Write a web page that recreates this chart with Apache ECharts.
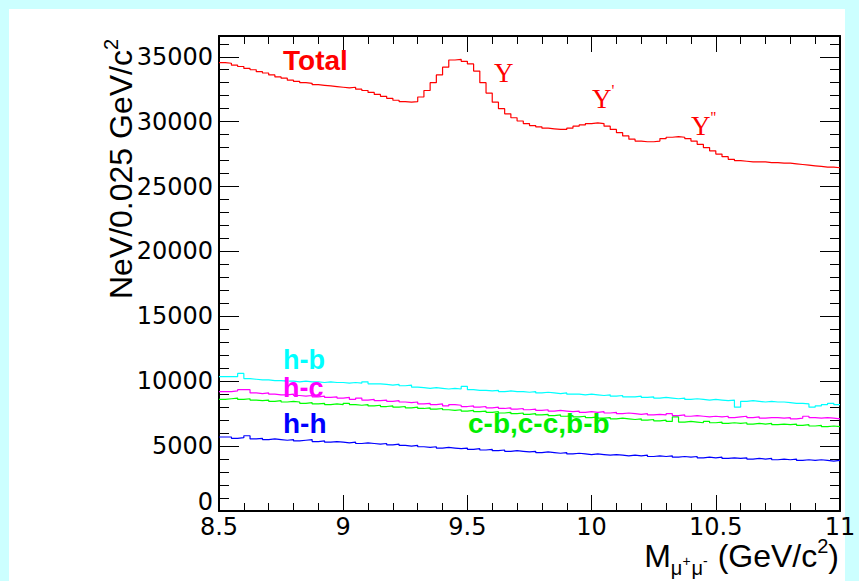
<!DOCTYPE html>
<html>
<head>
<meta charset="utf-8">
<script src="https://cdn.jsdelivr.net/npm/echarts@6/dist/echarts.min.js"></script>
<style>
  html, body { margin: 0; padding: 0; background: #ccffff; }
  #panel { position: absolute; left: 9px; top: 9px; width: 836px; height: 572px; background: #ffffff; }
  #chart { position: absolute; left: 0; top: 0; width: 859px; height: 581px; }
</style>
</head>
<body>
<div id="panel"></div>
<div id="chart"></div>
<script>
// ---- binning ----
const xMin = 8.5;
const xMax = 11;
const binWidth = 0.025;
const yMax = 36600;

// ---- series values (one per 0.025 GeV bin, 8.5 .. 11) ----
const total = [
  34550,34500,34350,34250,34100,34000,33850,33750,33600,33450,
  33350,33200,33100,33000,32950,32850,32800,32750,32700,32650,
  32600,32650,32500,32400,32250,32100,31950,31800,31650,31550,
  31500,31550,31900,32400,33000,33600,34200,34750,34800,34650,
  34450,33900,33000,32200,31500,31000,30600,30300,30050,29850,
  29700,29600,29500,29450,29400,29400,29500,29650,29750,29850,
  29900,29850,29650,29400,29150,28900,28650,28500,28450,28450,
  28500,28700,28800,28850,28800,28700,28500,28250,28000,27750,
  27500,27300,27100,27000,26950,26900,26900,26900,26850,26850,
  26800,26800,26750,26700,26650,26600,26550,26500,26500,26450
];
const hb = [
  10350,10350,10350,10600,10200,10150,10100,10100,10050,10050,
  10000,10000,9950,10000,9950,9950,9900,9950,9900,9900,
  9850,9900,9850,9950,9800,9800,9750,9700,9750,9650,
  9700,9550,9500,9450,9500,9450,9400,9450,9400,9600,
  9350,9300,9300,9250,9300,9200,9250,9200,9200,9150,
  9200,9100,9150,9100,9050,9100,9000,9000,8950,9000,
  8950,8900,8950,8850,8900,8800,8800,8850,8750,8800,
  8700,8750,8700,8650,8700,8600,8650,8600,8550,8600,
  8550,8500,8550,8000,8450,8500,8450,8400,8450,8400,
  8400,8350,8300,8300,8250,8000,8100,8200,8300,8200
];
const hc = [
  9200,9200,9250,9350,9350,9100,9050,9100,9000,8950,
  8950,9000,8900,8850,8900,8800,8850,8750,8800,8700,
  8750,8600,8700,8550,8600,8500,8550,8450,8500,8400,
  8350,8400,8250,8300,8200,8250,8100,8200,8150,8050,
  8100,8000,8050,7950,8000,7900,7950,7850,7900,7800,
  7850,7750,7800,7700,7750,7700,7650,7700,7600,7650,
  7600,7650,7550,7600,7500,7550,7500,7450,7500,7400,
  7450,7400,7500,7350,7400,7300,7350,7300,7250,7300,
  7250,7300,7200,7250,7300,7200,7250,7150,7200,7200,
  7150,7200,7100,7150,7300,7200,7150,7200,7150,7100
];
const ccbb = [
  8600,8650,8700,8600,8650,8550,8500,8550,8450,8500,
  8400,8450,8400,8300,8350,8250,8300,8200,8250,8200,
  8300,8200,8150,8200,8100,8150,8050,8100,8000,8050,
  7950,8000,7900,7950,7850,7900,7800,7750,7800,7700,
  7750,7650,7700,7600,7650,7550,7600,7500,7550,7450,
  7500,7400,7450,7350,7400,7300,7350,7250,7300,7200,
  7250,7150,7200,7100,7150,7100,7050,7100,7000,7050,
  6950,7000,6900,7250,6850,6900,6850,6800,6900,6800,
  6850,6750,6800,6750,6800,6700,6750,6700,6750,6650,
  6700,6650,6700,6600,6650,6550,6600,6500,6550,6500
];
const hh = [
  5700,5700,5600,5650,5800,5550,5600,5500,5550,5500,
  5450,5500,5400,5450,5500,5350,5400,5300,5350,5300,
  5250,5300,5200,5250,5200,5150,5200,5100,5150,5050,
  5000,5050,4950,4900,4950,4850,4900,4850,4800,4850,
  4750,4800,4700,4750,4650,4700,4600,4650,4600,4550,
  4600,4500,4550,4500,4450,4500,4400,4450,4400,4350,
  4400,4350,4300,4350,4300,4250,4300,4250,4300,4200,
  4250,4200,4250,4150,4200,4150,4200,4100,4150,4100,
  4150,4050,4100,4050,4100,4000,4050,4000,4050,3950,
  4000,3950,4000,3900,3950,3900,3950,3900,3850,3900
];

// histogram outline: point at each bin's left edge, closing point at xMax
function histData(vals) {
  const d = vals.map((v, i) => [+(xMin + i * binWidth).toFixed(4), v]);
  d.push([xMax, vals[vals.length - 1]]);
  return d;
}

const FONT_TICK = 'DejaVu Sans';
const FONT_TITLE = 'Liberation Sans';
const black = '#000000';

function xAx(pos, labels) {
  return {
    type: 'value', position: pos, min: xMin, max: xMax, interval: 0.5,
    axisLine: { show: true, onZero: false, lineStyle: { color: black, width: 2 } },
    axisTick: { show: true, inside: true, length: 16, lineStyle: { color: black, width: 1 } },
    minorTick: { show: true, splitNumber: 5, length: 8, lineStyle: { color: black, width: 1 } },
    splitLine: { show: false }, minorSplitLine: { show: false },
    axisLabel: labels ? { show: true, margin: 6, color: black, fontFamily: FONT_TICK, fontSize: 24,
      lineHeight: 19, formatter: v => String(v) } : { show: false }
  };
}
function yAx(pos, interval, tickLen, labels, line) {
  return {
    type: 'value', position: pos, min: 0, max: yMax, interval: interval,
    axisLine: { show: line, onZero: false, lineStyle: { color: black, width: 2 } },
    axisTick: { show: true, inside: true, length: tickLen, lineStyle: { color: black, width: 1 } },
    splitLine: { show: false },
    axisLabel: labels ? { show: true, margin: 6, color: black, fontFamily: FONT_TICK, fontSize: 24,
      lineHeight: 19, verticalAlignMinLabel: 'bottom',
      showMaxLabel: false, formatter: v => String(v) } : { show: false }
  };
}

function histSeries(name, vals, color, z) {
  return {
    name: name, type: 'line', step: 'end', data: histData(vals),
    xAxisIndex: 0, yAxisIndex: 0, symbol: 'none', showSymbol: false, silent: true,
    lineStyle: { color: color, width: 1.2 }, z: z, animation: false
  };
}

function label(text, x, y, color, size) {
  return {
    type: 'text', x: x, y: y, z: 100,
    style: { text: text, fill: color, font: 'bold ' + (size || 28) + 'px "Liberation Sans"', lineHeight: 19,
      align: 'left', verticalAlign: 'middle' }
  };
}

const chart = echarts.init(document.getElementById('chart'), null, { renderer: 'svg', width: 859, height: 581 });
chart.setOption({
  animation: false,
  backgroundColor: 'transparent',
  grid: { left: 219, right: 19, top: 36, bottom: 70, containLabel: false, outerBoundsMode: 'none' },
  xAxis: [xAx('bottom', true), xAx('top', false)],
  yAxis: [
    yAx('left', 5000, 20, true, true),
    yAx('left', 1000, 10, false, false),
    yAx('right', 5000, 20, false, true),
    yAx('right', 1000, 10, false, false)
  ],
  series: [
    histSeries('Total', total, '#ff0000', 5),
    histSeries('h-b', hb, '#00ffff', 4),
    histSeries('h-c', hc, '#ff00ff', 4),
    histSeries('c-b,c-c,b-b', ccbb, '#00ff00', 3),
    histSeries('h-h', hh, '#0000ff', 4)
  ],
  graphic: [
    // y axis title
    {
      type: 'text', x: 121, y: 169, rotation: Math.PI / 2, z: 100,
      style: {
        text: '{a|NeV/0.025 GeV/c}{q|2}', align: 'center', verticalAlign: 'middle',
        rich: {
          a: { fontFamily: FONT_TITLE, fontSize: 32, lineHeight: 40, fill: black, verticalAlign: 'middle' },
          q: { fontFamily: FONT_TITLE, fontSize: 20, lineHeight: 20, fill: black, verticalAlign: 'top' }
        }
      }
    },
    // x axis title
    {
      type: 'text', x: 839, y: 556, z: 100,
      style: {
        text: '{a|M}{s|μ}{p|+}{s|μ}{p|-}{a| (GeV/c}{q|2}{a|)}', align: 'right', verticalAlign: 'middle',
        rich: {
          a: { fontFamily: FONT_TITLE, fontSize: 32, lineHeight: 44, fill: black, verticalAlign: 'middle' },
          s: { fontFamily: FONT_TITLE, fontSize: 20, lineHeight: 18, fill: black, verticalAlign: 'bottom' },
          p: { fontFamily: FONT_TITLE, fontSize: 14, lineHeight: 12, fill: black, verticalAlign: 'bottom', padding: [0, 1, 10, 0] },
          q: { fontFamily: FONT_TITLE, fontSize: 20, lineHeight: 19, fill: black, verticalAlign: 'top', padding: [2, 0, 0, 0] }
        }
      }
    },
    label('Total', 283, 60, '#ff0000'),
    label('h-b', 283, 360, '#00ffff', 27),
    label('h-c', 283, 388, '#ff00ff', 27),
    label('h-h', 283, 423, '#0000ff'),
    label('c-b,c-c,b-b', 468, 423, '#00ee00'),
    {
      type: 'text', x: 494, y: 73, z: 100,
      style: { text: 'Υ', fill: '#ff0000', font: '27px "Liberation Serif"', align: 'left', verticalAlign: 'middle' }
    },
    {
      type: 'text', x: 592, y: 99, z: 100,
      style: {
        text: '{u|Υ}{p|\'}', align: 'left', verticalAlign: 'middle',
        rich: {
          u: { fontFamily: 'Liberation Serif', fontSize: 27, lineHeight: 34, fill: '#ff0000', verticalAlign: 'middle' },
          p: { fontFamily: 'Liberation Serif', fontSize: 16, lineHeight: 16, fill: '#ff0000', verticalAlign: 'top' }
        }
      }
    },
    {
      type: 'text', x: 691, y: 126, z: 100,
      style: {
        text: '{u|Υ}{p|\'\'}', align: 'left', verticalAlign: 'middle',
        rich: {
          u: { fontFamily: 'Liberation Serif', fontSize: 27, lineHeight: 34, fill: '#ff0000', verticalAlign: 'middle' },
          p: { fontFamily: 'Liberation Serif', fontSize: 16, lineHeight: 16, fill: '#ff0000', verticalAlign: 'top' }
        }
      }
    }
  ]
});
</script>
</body>
</html>
